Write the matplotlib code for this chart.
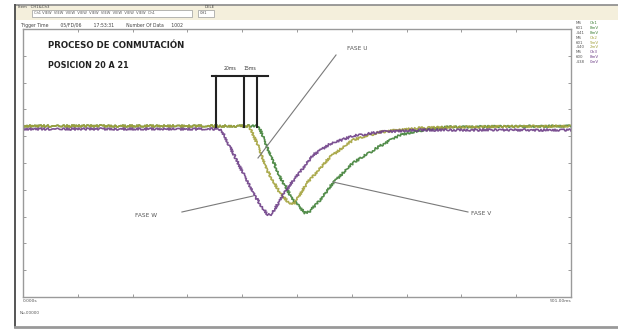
import matplotlib.pyplot as plt
from matplotlib.patches import Rectangle

# Time axis in ms, amplitude in screen units (baseline = 0)
w_time = [0, 178.8, 181.6, 193.4, 202.6, 211.7, 218.1, 223.5, 227.2, 234.5, 243.6,
          252.7, 264.6, 280.1, 301.1, 325.7, 362.2, 500]
w_vals = [-2, -2, -4, -30, -50, -69, -80, -88, -87, -73, -58,
          -45, -28, -17, -9, -5, -3, -3]

u_time = [0, 205.3, 207.1, 213.5, 222.6, 234.5, 243.6, 248.2, 259.1, 280.1, 301.1,
          325.7, 362.2, 398.7, 500]
u_vals = [1, 1, -1, -16, -43, -66, -77, -76, -56, -30, -13, -5, -1, 0, 1]

v_time = [0, 214.4, 216.2, 222.6, 234.5, 246.4, 257.3, 261.0, 271.0, 282.8, 301.1,
          325.7, 344.0, 365.0, 386.9, 500]
v_vals = [1, 1, -2, -20, -50, -73, -86, -85, -73, -56, -36, -19, -8, -3, 0, 1]

marker_times = [176.0, 201.6, 213.5]
marker_labels = ['20ms', '15ms']
marker_top = 51

legend_rows = [('MS', 'Ch1'), ('601', '8mV'), ('-441', '8mV'),
               ('MS', 'Ch2'), ('601', '9mV'), ('-440', '2mV'),
               ('MS', 'Ch3'), ('600', '8mV'), ('-438', '0mV')]

purple = '#6e3f87'
olive = '#a3a23c'
green = '#3f8036'
W, H = 618, 329


def fx(x):
    return x / W


def fy(y):
    return 1 - y / H


fig = plt.figure(figsize=(6.18, 3.29), dpi=100)
fig.patch.set_facecolor('white')

# window chrome
fig.add_artist(Rectangle((fx(15), fy(20)), fx(603), 15 / H, transform=fig.transFigure,
                         facecolor='#f4efdc', edgecolor='none'))
fig.add_artist(plt.Line2D([fx(15), 1], [fy(5), fy(5)], transform=fig.transFigure,
                          color='#8a8a8a', lw=1.2))
fig.add_artist(plt.Line2D([fx(15), fx(15)], [fy(5), fy(327)], transform=fig.transFigure,
                          color='#555555', lw=1.4))
fig.add_artist(plt.Line2D([fx(15), 1], [fy(327), fy(327)], transform=fig.transFigure,
                          color='#999999', lw=2))
fig.add_artist(Rectangle((fx(32), fy(17)), 160 / W, 7 / H, transform=fig.transFigure,
                         facecolor='white', edgecolor='#9a9a9a', lw=0.5))
fig.add_artist(Rectangle((fx(198), fy(17)), 16 / W, 7 / H, transform=fig.transFigure,
                         facecolor='white', edgecolor='#9a9a9a', lw=0.5))
fig.text(fx(18), fy(7), 'Item   CH1&Ch3', fontsize=2.8, color='#444444', va='center')
fig.text(fx(205), fy(7), 'DELE', fontsize=2.8, color='#444444', va='center')
fig.text(fx(34), fy(13.5), 'Ch1 VIEW  VIEW  VIEW  VIEW  VIEW  VIEW  VIEW  VIEW  VIEW  Ch1',
         fontsize=2.6, color='#555555', va='center')
fig.text(fx(200), fy(13.5), 'CH1', fontsize=2.6, color='#444444', va='center')
fig.text(fx(20), fy(25.5),
         'Trigger Time        05/FD/06        17:53:31        Number Of Data     1002',
         fontsize=3.3, color='#444444', va='center')

# plot area
ax = fig.add_axes([fx(23), fy(297), 548 / W, 268 / H])
ax.set_xlim(0, 500)
ax.set_ylim(-170, 98)
for s in ax.spines.values():
    s.set_color('#9a9a9a')
    s.set_linewidth(1.0)
ax.set_xticks([50 * i for i in range(1, 10)])
ax.set_yticks([-170 + 26.8 * i for i in range(1, 10)])
ax.tick_params(direction='in', length=2, width=0.7, color='#9a9a9a',
               labelbottom=False, labelleft=False, top=True, right=True)

for t, vals, c in [(v_time, v_vals, green), (u_time, u_vals, olive), (w_time, w_vals, purple)]:
    ln, = ax.plot(t, vals, color=c, lw=1.2, alpha=0.9)
    ln.set_sketch_params(1.1, 2.0, 2.0)

# cursor markers
for mt in marker_times:
    ax.plot([mt, mt], [0, marker_top], color='#222222', lw=1.5)
ax.plot([172.4, 223.5], [marker_top, marker_top], color='#222222', lw=1.5)
ax.text(189, 59, marker_labels[0], fontsize=3.3, ha='center', va='center', color='#333333')
ax.text(207, 59, marker_labels[1], fontsize=3.3, ha='center', va='center', color='#333333')

# titles
ax.text(23, 81, 'PROCESO DE CONMUTACIÓN', fontsize=6.2, fontweight='bold', color='#222222',
        va='center')
ax.text(23, 61, 'POSICION 20 A 21', fontsize=5.8, fontweight='bold', color='#222222',
        va='center')

# phase annotations
ann = dict(color='#7a7a7a', lw=0.8)
ax.plot([285.6, 214.4], [72, -31], **ann)
ax.text(296, 78, 'FASE U', fontsize=4.2, color='#555555', va='center')
ax.plot([145, 209.9], [-85, -69], **ann)
ax.text(102, -88, 'FASE W', fontsize=4.2, color='#555555', va='center')
ax.plot([282.8, 406], [-55, -85], **ann)
ax.text(408.5, -86, 'FASE V', fontsize=4.2, color='#555555', va='center')

# channel readout panel
row_colors = [green, green, green, olive, olive, olive, purple, purple, purple]
for i, (a, b) in enumerate(legend_rows):
    y = 23 + i * 4.9
    fig.text(fx(576), fy(y), a, fontsize=2.9, color='#555555', va='center')
    fig.text(fx(590), fy(y), b, fontsize=2.9, color=row_colors[i], va='center')

fig.text(fx(23), fy(301.5), '0.000s', fontsize=3.2, color='#555555', va='center')
fig.text(fx(571), fy(301.5), '501.00ms', fontsize=3.2, color='#555555', va='center', ha='right')
fig.text(fx(20), fy(313), 'Nu.00000', fontsize=3.0, color='#555555', va='center')

fig.savefig('out.png', dpi=100)
